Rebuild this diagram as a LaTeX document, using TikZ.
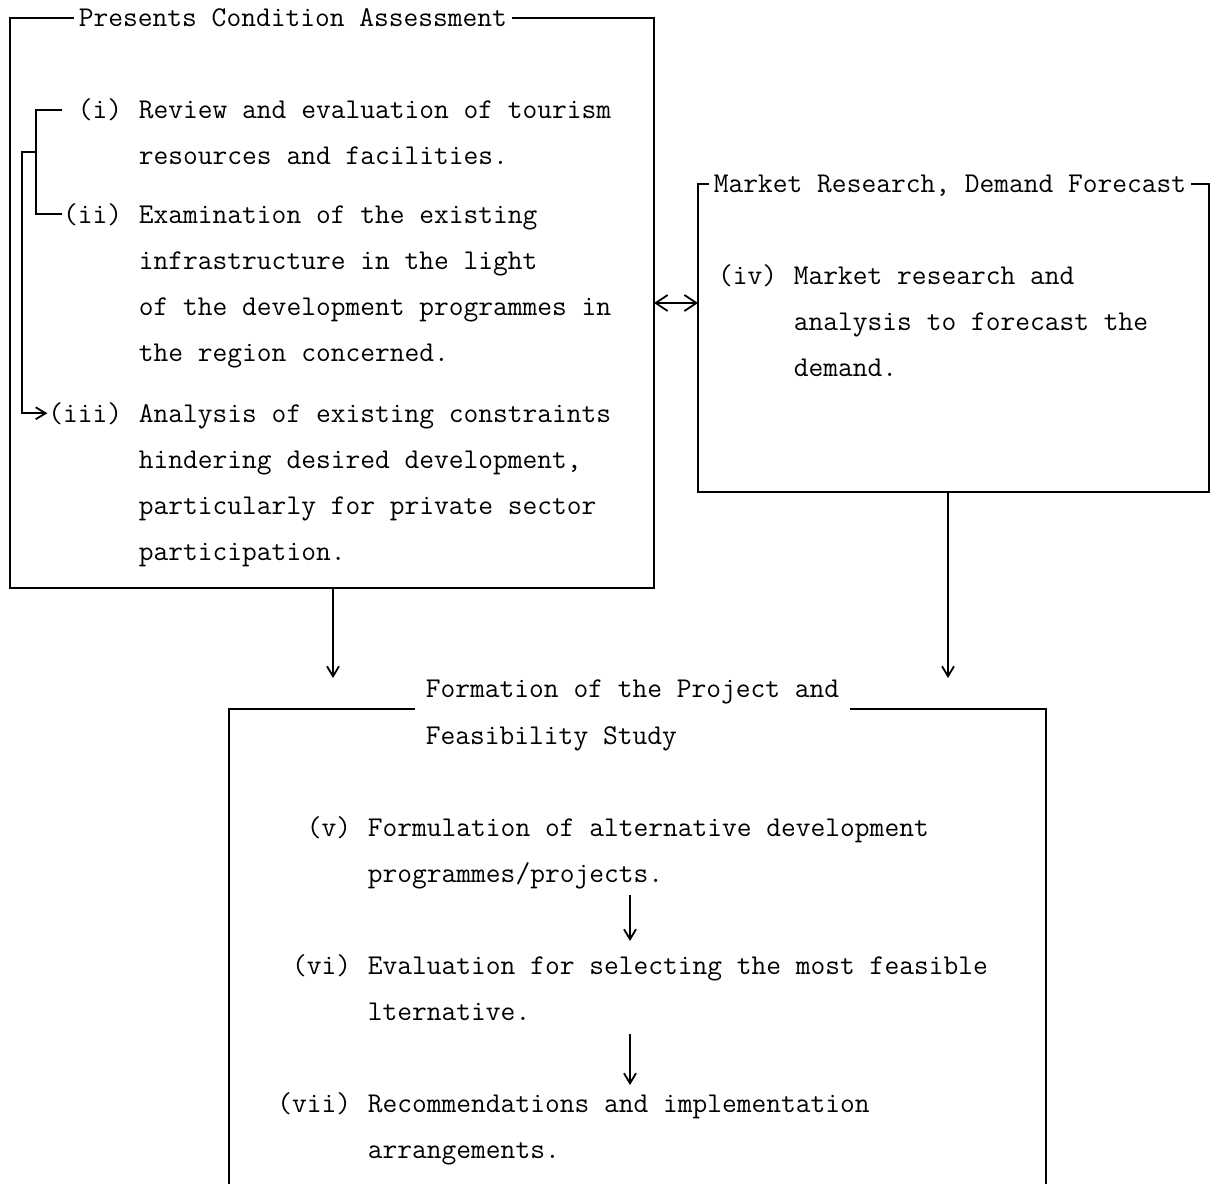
\documentclass[tikz,border=0pt]{standalone}
\usetikzlibrary{arrows.meta}
\newcommand\twfont{\fontsize{14.33}{23}\selectfont\ttfamily}
\begin{document}
\begin{tikzpicture}[x=0.5pt,y=-0.5pt, line width=0.9pt,
  txt/.style={anchor=base west, inner sep=0pt, font=\twfont},
  lbl/.style={anchor=base east, inner sep=0pt, font=\twfont},
  ttl/.style={anchor=base west, inner xsep=2pt, inner ysep=0pt, font=\twfont},
  ttlwide/.style={anchor=base west, inner xsep=5pt, inner ysep=0pt, font=\twfont},
  arr/.style={-{Straight Barb[length=5pt,width=6pt]}},
  dblarr/.style={{Straight Barb[length=6pt,width=8pt]}-{Straight Barb[length=6pt,width=8pt]}}]
\fill[white] (0,0) rectangle (1213,1183);
\useasboundingbox (0,0) rectangle (1213,1183);

% ---------- Box 1 ----------
\coordinate (b1tl) at (10,18);
\coordinate (b1bl) at (10,588);
\coordinate (b1br) at (654,588);
\coordinate (b1tr) at (654,18);
\node[ttl] (t1) at (74,26) {Presents Condition Assessment};
\draw (t1.west |- b1tl) -- (b1tl) -- (b1bl) -- (b1br) -- (b1tr) -- (t1.east |- b1tr);

\node[lbl] (l1) at (123,118) {(i)};
\node[txt] (a1) at (138,118) {Review and evaluation of tourism};
\node[txt] (a2) at (138,164) {resources and facilities.};
\node[lbl] (l2) at (123,223) {(ii)};
\node[txt] (b1) at (138,223) {Examination of the existing};
\node[txt] (b2) at (138,269) {infrastructure in the light};
\node[txt] (b3) at (138,315) {of the development programmes in};
\node[txt] (b4) at (138,361) {the region concerned.};
\node[lbl] (l3) at (123,422) {(iii)};
\node[txt] (c1) at (138,422) {Analysis of existing constraints};
\node[txt] (c2) at (138,468) {hindering desired development,};
\node[txt] (c3) at (138,514) {particularly for private sector};
\node[txt] (c4) at (138,560) {participation.};

% bracket
\coordinate (k1) at (62,110);
\coordinate (k2) at (36,110);
\coordinate (k3) at (36,152);
\coordinate (k4) at (22,152);
\draw (k1) -- (k2) |- (l2.west);
\draw[arr] (k3) -- (k4) |- (l3.west);

% ---------- Box 2 ----------
\coordinate (b2tl) at (698,184);
\coordinate (b2bl) at (698,492);
\coordinate (b2br) at (1209,492);
\coordinate (b2tr) at (1209,184);
\node[ttl] (t2) at (709,192) {Market Research, Demand Forecast};
\draw (t2.west |- b2tl) -- (b2tl) -- (b2bl) -- (b2br) -- (b2tr) -- (t2.east |- b2tr);

\node[lbl] (l4) at (778,284) {(iv)};
\node[txt] (d1) at (793,284) {Market research and};
\node[txt] (d2) at (793,330) {analysis to forecast the};
\node[txt] (d3) at (793,376) {demand.};

% double arrow
\coordinate (e1) at (654,303);
\coordinate (e2) at (698,303);
\draw[dblarr] (e1) -- (e2);

% ---------- Box 3 ----------
\coordinate (b3tl) at (229,709);
\coordinate (b3tr) at (1046,709);
\coordinate (b3bl) at (229,1186);
\coordinate (b3br) at (1046,1186);
\node[ttlwide] (t3) at (415,697) {Formation of the Project and};
\node[txt] (t3b) at (425,744) {Feasibility Study};
\draw (t3.west |- b3tl) -- (b3tl) -- (b3bl);
\draw (t3.east |- b3tr) -- (b3tr) -- (b3br);

% arrows down into box 3
\coordinate (f1) at (333,588);
\coordinate (f2) at (333,678);
\coordinate (g1) at (948,492);
\coordinate (g2) at (948,678);
\draw[arr] (f1) -- (f2);
\draw[arr] (g1) -- (g2);

\node[lbl] (l5) at (352,836) {(v)};
\node[txt] (v1) at (367,836) {Formulation of alternative development};
\node[txt] (v2) at (367,882) {programmes/projects.};
\node[lbl] (l6) at (352,974) {(vi)};
\node[txt] (w1) at (367,974) {Evaluation for selecting the most feasible};
\node[txt] (w2) at (367,1020) {lternative.};
\node[lbl] (l7) at (352,1112) {(vii)};
\node[txt] (x1) at (367,1112) {Recommendations and implementation};
\node[txt] (x2) at (367,1158) {arrangements.};

\coordinate (h1) at (630,895);
\coordinate (h2) at (630,941);
\coordinate (h3) at (630,1034);
\coordinate (h4) at (630,1085);
\draw[arr] (h1) -- (h2);
\draw[arr] (h3) -- (h4);
\end{tikzpicture}
\end{document}
